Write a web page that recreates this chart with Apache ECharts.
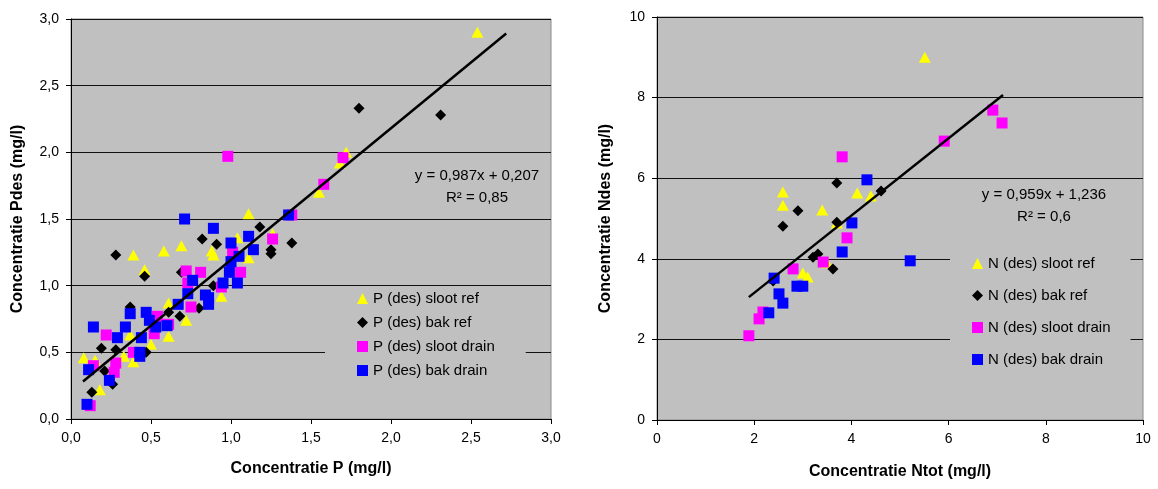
<!DOCTYPE html>
<html>
<head>
<meta charset="utf-8">
<script src="https://cdn.jsdelivr.net/npm/echarts@6/dist/echarts.min.js"></script>
<style>
html,body{margin:0;padding:0;background:#fff;}
#chart{width:1158px;height:489px;}
</style>
</head>
<body>
<div id="chart"></div>
<script>
// ---- Left chart: P ----
var pSlootRef = [[2.54,2.90],[1.72,2.00],[1.68,1.92],[1.55,1.70],[1.11,1.54],[0.69,1.30],[0.58,1.26],[0.39,1.23],[0.88,1.26],[0.89,1.23],[1.04,1.36],[1.26,1.39],[1.11,1.21],[0.94,0.92],[0.46,1.12],[0.61,0.87],[0.72,0.74],[0.61,0.62],[0.37,0.63],[0.50,0.56],[0.33,0.47],[0.39,0.43],[0.08,0.46],[0.15,0.44],[0.18,0.22]];
var pBakRef = [[1.80,2.33],[2.31,2.28],[1.18,1.44],[0.82,1.35],[0.91,1.31],[0.28,1.23],[1.25,1.27],[1.25,1.24],[1.38,1.32],[0.46,1.07],[0.69,1.10],[0.89,1.00],[0.80,0.83],[0.61,0.80],[0.68,0.77],[0.37,0.84],[0.19,0.53],[0.28,0.52],[0.47,0.50],[0.21,0.36],[0.26,0.26],[0.13,0.20]];
var pSlootDrain = [[1.70,1.96],[1.58,1.76],[0.98,1.97],[1.38,1.53],[1.26,1.35],[1.01,1.25],[1.06,1.10],[0.94,0.99],[0.72,1.11],[0.81,1.10],[0.73,1.02],[0.75,0.84],[0.61,0.71],[0.54,0.77],[0.52,0.64],[0.22,0.63],[0.39,0.50],[0.28,0.42],[0.27,0.35],[0.14,0.40],[0.12,0.10]];
var pBakDrain = [[0.71,1.50],[1.36,1.53],[0.89,1.43],[1.00,1.32],[1.11,1.37],[1.14,1.27],[1.05,1.22],[1.00,1.18],[0.99,1.10],[1.04,1.02],[0.95,1.02],[0.76,1.04],[0.73,0.94],[0.84,0.93],[0.86,0.91],[0.86,0.86],[0.67,0.86],[0.60,0.70],[0.47,0.80],[0.49,0.74],[0.53,0.69],[0.37,0.79],[0.34,0.69],[0.14,0.69],[0.29,0.61],[0.44,0.61],[0.43,0.50],[0.43,0.47],[0.11,0.37],[0.24,0.29],[0.10,0.11]];
var pTrendCoef = [0.987, 0.207];
var pTrendRange = [0.075, 2.72];
var pNames = ['P (des) sloot ref','P (des) bak ref','P (des) sloot drain','P (des) bak drain'];

// ---- Right chart: N ----
var nSlootRef = [[5.51,9.0],[2.59,5.66],[2.59,5.33],[3.40,5.21],[4.12,5.63],[4.40,5.56],[3.70,4.89],[3.00,3.65],[3.10,3.55],[3.50,3.90]];
var nBakRef = [[3.70,5.88],[2.90,5.19],[2.59,4.81],[3.70,4.91],[4.61,5.68],[3.21,4.04],[3.31,4.12],[3.62,3.75],[2.39,3.45]];
var nSlootDrain = [[3.81,6.53],[3.91,4.52],[3.42,3.92],[2.80,3.75],[2.18,2.68],[2.10,2.51],[1.89,2.09],[6.91,7.69],[7.10,7.37],[5.91,6.92]];
var nBakDrain = [[4.32,5.96],[4.01,4.89],[3.81,4.17],[5.21,3.95],[2.41,3.52],[2.88,3.32],[3.00,3.32],[2.51,3.13],[2.59,2.90],[2.30,2.66]];
var nTrendCoef = [0.959, 1.236];
var nTrendRange = [1.89, 7.12];
var nNames = ['N (des) sloot ref','N (des) bak ref','N (des) sloot drain','N (des) bak drain'];

var FONT = '"Liberation Sans", Arial, sans-serif';
function trend(coef, range){ return range.map(function(x){ return [x, coef[0]*x + coef[1]]; }); }
function comma1(v){ return v.toFixed(1).replace('.', ','); }

var styles = [
  {symbol:'triangle', symbolSize:[12,11], color:'#ffff00'},
  {symbol:'diamond', symbolSize:[11,11], color:'#000000'},
  {symbol:'rect', symbolSize:[11,11], color:'#ff00ff'},
  {symbol:'rect', symbolSize:[11,11], color:'#0000ff'}
];
function scat(name, data, idx, s){
  return {type:'scatter', name:name, data:data, xAxisIndex:idx, yAxisIndex:idx,
    symbol:s.symbol, symbolSize:s.symbolSize, itemStyle:{color:s.color, opacity:1}, z:2};
}
function line(data, idx){
  return {type:'line', data:data, xAxisIndex:idx, yAxisIndex:idx, symbol:'none', showSymbol:false,
    lineStyle:{color:'#000', width:2.5}, z:5, silent:true};
}
function xAx(idx, max, interval, name, fmt, gap){
  return {type:'value', gridIndex:idx, min:0, max:max, interval:interval, name:name, nameLocation:'middle', nameGap:gap,
    nameTextStyle:{fontFamily:FONT, fontSize:16, fontWeight:'bold', color:'#000'},
    axisLine:{show:true, onZero:false, lineStyle:{color:'#000', width:1}},
    axisTick:{show:true, length:5, inside:false, lineStyle:{color:'#000'}},
    axisLabel:{fontFamily:FONT, fontSize:14, color:'#000', margin:12, formatter:fmt},
    splitLine:{show:false}};
}
function yAx(idx, max, interval, name, fmt, gap){
  return {type:'value', gridIndex:idx, min:0, max:max, interval:interval, name:name, nameLocation:'middle', nameGap:gap,
    nameTextStyle:{fontFamily:FONT, fontSize:16, fontWeight:'bold', color:'#000'},
    axisLine:{show:true, onZero:false, lineStyle:{color:'#000', width:1}},
    axisTick:{show:true, length:5, inside:false, lineStyle:{color:'#000'}},
    axisLabel:{fontFamily:FONT, fontSize:14, color:'#000', margin:12, formatter:fmt},
    splitLine:{show:true, lineStyle:{color:'#111', width:1}}};
}
function legend(names, left, top, pad, gap){
  return {data:names, orient:'vertical', left:left, top:top, padding:pad, backgroundColor:'#c0c0c0',
    itemWidth:11, itemHeight:11, itemGap:gap, selectedMode:false,
    textStyle:{fontFamily:FONT, fontSize:15, color:'#000', lineHeight:15}};
}

var chart = echarts.init(document.getElementById('chart'), null, {renderer:'canvas'});
chart.setOption({
  animation:false,
  backgroundColor:'#ffffff',
  textStyle:{fontFamily:FONT},
  grid:[
    {left:71, top:19, width:480, height:400, show:true, backgroundColor:'#c0c0c0', borderColor:'#8a8a8a', borderWidth:1},
    {left:657, top:17, width:486, height:403, show:true, backgroundColor:'#c0c0c0', borderColor:'#8a8a8a', borderWidth:1}
  ],
  xAxis:[
    xAx(0, 3, 0.5, 'Concentratie P (mg/l)', comma1, 42),
    xAx(1, 10, 2, 'Concentratie Ntot (mg/l)', function(v){return String(v);}, 44)
  ],
  yAxis:[
    yAx(0, 3, 0.5, 'Concentratie Pdes (mg/l)', comma1, 45),
    yAx(1, 10, 2, 'Concentratie Ndes (mg/l)', function(v){return String(v);}, 43)
  ],
  legend:[
    legend(pNames, 325, 288, [3,31,14,32], 9),
    legend(nNames, 950, 248, [8,20,14,22], 17)
  ],
  graphic:[
    {type:'text', left:null, x:477, y:176, z:10, style:{text:'y = 0,987x + 0,207', font:'15px ' + FONT, fill:'#000', textAlign:'center', textVerticalAlign:'middle'}},
    {type:'text', x:477, y:198, z:10, style:{text:'R\u00b2 = 0,85', font:'15px ' + FONT, fill:'#000', textAlign:'center', textVerticalAlign:'middle'}},
    {type:'text', x:1044, y:195, z:10, style:{text:'y = 0,959x + 1,236', font:'15px ' + FONT, fill:'#000', textAlign:'center', textVerticalAlign:'middle'}},
    {type:'text', x:1044, y:217, z:10, style:{text:'R\u00b2 = 0,6', font:'15px ' + FONT, fill:'#000', textAlign:'center', textVerticalAlign:'middle'}}
  ],
  series:[
    scat(pNames[0], pSlootRef, 0, styles[0]),
    scat(pNames[1], pBakRef, 0, styles[1]),
    scat(pNames[2], pSlootDrain, 0, styles[2]),
    scat(pNames[3], pBakDrain, 0, styles[3]),
    line(trend(pTrendCoef, pTrendRange), 0),
    scat(nNames[0], nSlootRef, 1, styles[0]),
    scat(nNames[1], nBakRef, 1, styles[1]),
    scat(nNames[2], nSlootDrain, 1, styles[2]),
    scat(nNames[3], nBakDrain, 1, styles[3]),
    line(trend(nTrendCoef, nTrendRange), 1)
  ]
});
</script>
</body>
</html>
